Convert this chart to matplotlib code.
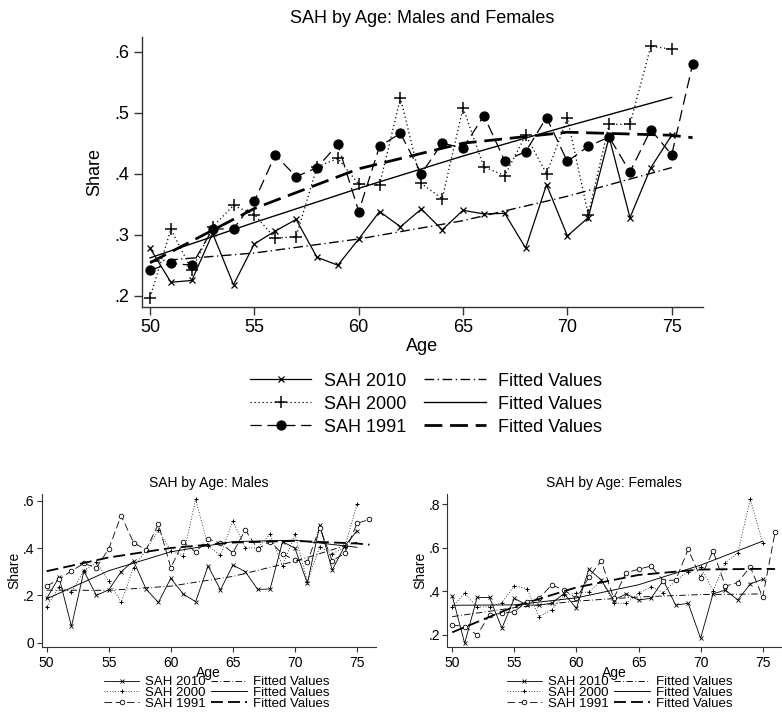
import numpy as np
import matplotlib
matplotlib.use("Agg")
import matplotlib.pyplot as plt
from matplotlib.ticker import FuncFormatter

plt.rcParams['font.family'] = ['Liberation Sans', 'DejaVu Sans']

ages_2010 = np.arange(50, 76)
ages_2000 = np.arange(50, 76)
ages_1991 = np.arange(50, 77)
fit_ages = [50, 55, 60, 65, 70, 75]
fit_ages_1991 = [50, 55, 60, 65, 70, 75, 76]

# share by age, both sexes
all_2010 = [0.278, 0.222, 0.225, 0.302, 0.218, 0.285, 0.306, 0.325, 0.263, 0.250,
            0.293, 0.338, 0.313, 0.342, 0.308, 0.340, 0.334, 0.335, 0.278, 0.382,
            0.298, 0.328, 0.460, 0.328, 0.410, 0.463]
all_2000 = [0.197, 0.309, 0.242, 0.313, 0.348, 0.333, 0.294, 0.297, 0.411, 0.425,
            0.383, 0.382, 0.524, 0.384, 0.359, 0.508, 0.411, 0.397, 0.463, 0.400,
            0.491, 0.333, 0.481, 0.481, 0.609, 0.604]
all_1991 = [0.242, 0.253, 0.250, 0.309, 0.310, 0.355, 0.431, 0.395, 0.410, 0.448,
            0.338, 0.445, 0.466, 0.400, 0.450, 0.442, 0.495, 0.421, 0.436, 0.492,
            0.420, 0.445, 0.460, 0.403, 0.472, 0.431, 0.579]
all_fit_2010 = [0.256, 0.270, 0.293, 0.323, 0.363, 0.410]
all_fit_2000 = [0.262, 0.320, 0.376, 0.429, 0.478, 0.525]
all_fit_1991 = [0.254, 0.343, 0.408, 0.450, 0.468, 0.463, 0.459]

# males
m_2010 = [0.187, 0.276, 0.069, 0.303, 0.200, 0.223, 0.300, 0.345, 0.227, 0.170,
          0.272, 0.206, 0.173, 0.324, 0.223, 0.328, 0.300, 0.225, 0.227, 0.427,
          0.399, 0.251, 0.497, 0.307, 0.408, 0.473]
m_2000 = [0.152, 0.235, 0.215, 0.304, 0.340, 0.261, 0.170, 0.317, 0.392, 0.476,
          0.389, 0.366, 0.606, 0.408, 0.370, 0.515, 0.401, 0.400, 0.459, 0.325,
          0.458, 0.258, 0.406, 0.375, 0.403, 0.586]
m_1991 = [0.239, 0.268, 0.303, 0.335, 0.317, 0.396, 0.537, 0.423, 0.392, 0.501,
          0.317, 0.425, 0.383, 0.438, 0.420, 0.380, 0.476, 0.396, 0.427, 0.375,
          0.349, 0.342, 0.486, 0.346, 0.377, 0.504, 0.521]
m_fit_2010 = [0.222, 0.221, 0.239, 0.280, 0.344, 0.425]
m_fit_2000 = [0.185, 0.304, 0.384, 0.427, 0.433, 0.403]
m_fit_1991 = [0.302, 0.360, 0.400, 0.423, 0.430, 0.419, 0.414]

# females
f_2010 = [0.378, 0.162, 0.372, 0.372, 0.231, 0.368, 0.337, 0.337, 0.345, 0.390,
          0.322, 0.501, 0.452, 0.360, 0.388, 0.360, 0.368, 0.449, 0.337, 0.345,
          0.185, 0.388, 0.406, 0.360, 0.434, 0.455]
f_2000 = [0.330, 0.391, 0.327, 0.330, 0.348, 0.426, 0.412, 0.284, 0.315, 0.383,
          0.391, 0.398, 0.449, 0.345, 0.345, 0.391, 0.421, 0.394, 0.450, 0.490,
          0.513, 0.403, 0.531, 0.577, 0.821, 0.623]
f_1991 = [0.246, 0.238, 0.200, 0.292, 0.299, 0.307, 0.353, 0.368, 0.429, 0.406,
          0.368, 0.464, 0.540, 0.368, 0.485, 0.501, 0.516, 0.449, 0.452, 0.592,
          0.463, 0.585, 0.424, 0.440, 0.513, 0.373, 0.670]
f_fit_2010 = [0.284, 0.325, 0.355, 0.374, 0.385, 0.388]
f_fit_2000 = [0.336, 0.338, 0.370, 0.430, 0.520, 0.630]
f_fit_1991 = [0.212, 0.330, 0.418, 0.475, 0.500, 0.503, 0.502]

labels = ['SAH 2010', 'SAH 2000', 'SAH 1991']


def share_fmt(v, pos):
    if abs(v) < 1e-9:
        return '0'
    return ('%.1f' % v).lstrip('0')


def draw_panel(ax, series, fits, big):
    y2010, y2000, y1991 = series
    f2010, f2000, f1991 = fits
    if big:
        lw, fs = 0.9, 13
        mk = dict(x=4.5, plus=8, circ=6.5)
        ms_face = 'black'
    else:
        lw, fs = 0.6, 10
        mk = dict(x=2.2, plus=3.5, circ=3.3)
        ms_face = 'white'

    h = []
    h += ax.plot(ages_2010, y2010, color='black', lw=lw, marker='x',
                 ms=mk['x'], mew=lw, label=labels[0])
    h += ax.plot(ages_2000, y2000, color='black', lw=lw, ls=(0, (1, 2.2)),
                 marker='+', ms=mk['plus'], mew=lw * 1.2, label=labels[1])
    h += ax.plot(ages_1991, y1991, color='black', lw=lw, ls=(0, (9, 4.5)),
                 marker='o', ms=mk['circ'], mfc=ms_face, mec='black',
                 mew=lw, label=labels[2])

    # fitted values
    h += ax.plot(fit_ages, f2010, color='black', lw=lw * 1.1,
                 ls=(0, (7, 2.6, 0.9, 2.6)), label='Fitted Values')
    h += ax.plot(fit_ages, f2000, color='black', lw=lw * 1.1,
                 label='Fitted Values')
    h += ax.plot(fit_ages_1991, f1991, color='black', lw=lw * 2.2,
                 ls=(0, (6.5, 2.8)), label='Fitted Values')

    ax.set_xlim(49.6, 76.5)
    ax.set_xticks(np.arange(50, 76, 5))
    ax.yaxis.set_major_formatter(FuncFormatter(share_fmt))
    for s in ['top', 'right']:
        ax.spines[s].set_visible(False)
    for s in ['left', 'bottom']:
        ax.spines[s].set_linewidth(1.0 if big else 0.8)
        ax.spines[s].set_color('#333333')
    ax.tick_params(direction='out', length=6 if big else 3.5,
                   width=1.0 if big else 0.8, color='#333333',
                   labelsize=fs, pad=3 if big else 1.5)
    if not big:
        ax.tick_params(axis='x', pad=3)
    return h


fig = plt.figure(figsize=(7.82, 7.23), dpi=100)

# pooled chart
ax = fig.add_axes([0.1812, 0.5758, 0.7178, 0.373])
h = draw_panel(ax, (all_2010, all_2000, all_1991),
               (all_fit_2010, all_fit_2000, all_fit_1991), big=True)
ax.set_ylim(0.182, 0.624)
ax.set_yticks([0.2, 0.3, 0.4, 0.5, 0.6])
ax.set_title('SAH by Age: Males and Females', fontsize=13, pad=10)
ax.set_ylabel('Share', fontsize=13, labelpad=8)
ax.set_xlabel('Age', fontsize=13, labelpad=1)
fig.legend(h, [x.get_label() for x in h], ncol=2, frameon=False,
           fontsize=13, handlelength=3.4, handletextpad=0.7,
           columnspacing=1.0, labelspacing=0.33,
           loc='center', bbox_to_anchor=(0.545, 0.441))

small_legend = dict(ncol=2, frameon=False, fontsize=9.5, handlelength=2.7,
                    handletextpad=0.45, columnspacing=0.4, labelspacing=-0.12,
                    loc='center')

# males
axm = fig.add_axes([0.0533, 0.1055, 0.4271, 0.2112])
hm = draw_panel(axm, (m_2010, m_2000, m_1991),
                (m_fit_2010, m_fit_2000, m_fit_1991), big=False)
axm.set_ylim(-0.017, 0.628)
axm.set_yticks([0, 0.2, 0.4, 0.6])
axm.set_title('SAH by Age: Males', fontsize=10, pad=5)
axm.set_ylabel('Share', fontsize=10, labelpad=1)
axm.set_xlabel('Age', fontsize=10, labelpad=-3)
fig.legend(hm, [x.get_label() for x in hm],
           bbox_to_anchor=(0.277, 0.0415), **small_legend)

# females
axf = fig.add_axes([0.572, 0.1055, 0.4271, 0.2112])
hf = draw_panel(axf, (f_2010, f_2000, f_1991),
                (f_fit_2010, f_fit_2000, f_fit_1991), big=False)
axf.set_ylim(0.146, 0.846)
axf.set_yticks([0.2, 0.4, 0.6, 0.8])
axf.set_title('SAH by Age: Females', fontsize=10, pad=5)
axf.set_ylabel('Share', fontsize=10, labelpad=1)
axf.set_xlabel('Age', fontsize=10, labelpad=-3)
fig.legend(hf, [x.get_label() for x in hf],
           bbox_to_anchor=(0.792, 0.0415), **small_legend)

fig.savefig('out.png', dpi=100)
